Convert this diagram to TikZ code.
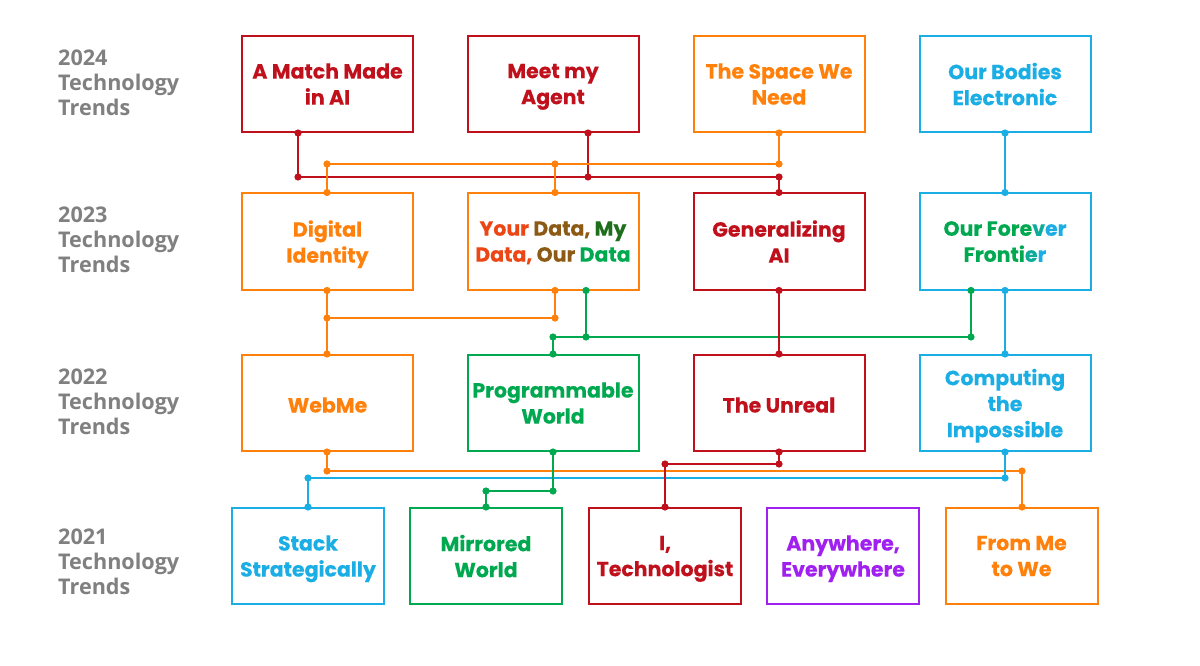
\documentclass[tikz,border=0pt]{standalone}
\usepackage{fontspec}
\setmainfont{Poppins}[BoldFeatures={FakeBold=0.25}]
\newfontfamily\labfont{Open Sans}
\definecolor{cred}{RGB}{192,16,28}
\definecolor{corange}{RGB}{255,128,10}
\definecolor{cblue}{RGB}{27,174,228}
\definecolor{cgreen}{RGB}{0,168,80}
\definecolor{cmix}{RGB}{14,171,154}
\definecolor{cpurple}{RGB}{160,32,240}
\definecolor{cgray}{RGB}{128,128,128}
\definecolor{cbrown}{RGB}{140,90,20}
\definecolor{cdkgreen}{RGB}{30,110,30}
\definecolor{cred2}{RGB}{235,70,20}
\newcommand\jd[2]{\fill[#1] #2 circle (3.6pt);}
\begin{document}
\begin{tikzpicture}[x=1pt,y=-1pt,
 box/.style={draw=#1, line width=2pt, minimum width=171pt, minimum height=96pt, inner sep=0, align=center, font=\bfseries\fontsize{20.5}{26}\selectfont, text=#1, text depth=0pt, execute at begin node={\rule{0pt}{19pt}}},
 sbox/.style={box=#1, minimum width=152pt},
 lab/.style={anchor=north west, align=left, text=cgray, font=\labfont\bfseries\fontsize{21.6}{25}\selectfont, inner sep=0},
 link/.style={draw=#1, line width=1.6pt},
]
\fill[white] (0,0) rectangle (1200,666);
\useasboundingbox (0,0) rectangle (1200,666);

% labels
\node[lab] (l1) at (58,50) {2024\\Technology\\Trends};
\node[lab] (l2) at (58,207) {2023\\Technology\\Trends};
\node[lab] (l3) at (58,369) {2022\\Technology\\Trends};
\node[lab] (l4) at (58,529) {2021\\Technology\\Trends};

% row 2024
\node[box=cred] (a1) at (327.5,84) {A Match Made\\in AI};
\node[box=cred] (a2) at (553,84) {Meet my\\Agent};
\node[box=corange] (a3) at (779,84) {The Space We\\Need};
\node[box=cblue] (a4) at (1005,84) {Our Bodies\\Electronic};
% row 2023
\node[box=corange] (b1) at (327.5,241.5) {Digital\\Identity};
\node[box=corange] (b2) at (553,241.5) {{\color{cred2}Your} {\color{cbrown}Data,} {\color{cdkgreen}My}\\{\color{cred2}Data,} {\color{cbrown}Our} {\color{cgreen}Data}};
\node[box=cred] (b3) at (779,241.5) {Generalizing\\AI};
\node[box=cblue] (b4) at (1005,241.5) {{\color{cgreen}Our Fore}{\color{cmix}v}{\color{cblue}er}\\{\color{cgreen}Fronti}{\color{cmix}e}{\color{cblue}r}};
% row 2022
\node[box=corange] (c1) at (327.5,403) {WebMe};
\node[box=cgreen] (c2) at (553,403) {Programmable\\World};
\node[box=cred] (c3) at (779,403) {The Unreal};
\node[box=cblue] (c4) at (1005,403) {Computing\\the\\Impossible};
% row 2021
\node[sbox=cblue] (d1) at (308,556) {Stack\\Strategically};
\node[sbox=cgreen] (d2) at (486,556) {Mirrored\\World};
\node[sbox=cred] (d3) at (665,556) {I,\\Technologist};
\node[sbox=cpurple] (d4) at (843,556) {Anywhere,\\Everywhere};
\node[sbox=corange] (d5) at (1021.5,556) {From Me\\to We};

% junction coordinates
\coordinate (r1) at (298,177);
\coordinate (r2) at (588,177);
\coordinate (r3) at (779,177);
\coordinate (o1) at (327,164);
\coordinate (o2) at (555,164);
\coordinate (o3) at (779,164);
\coordinate (p1) at (327,318);
\coordinate (p2) at (555,318);
\coordinate (g1) at (553,337);
\coordinate (g2) at (586,337);
\coordinate (g3) at (971,337);
\coordinate (q1) at (327,471);
\coordinate (q2) at (1022,471);
\coordinate (s1) at (308,478);
\coordinate (s2) at (1005,478);
\coordinate (t1) at (553,491);
\coordinate (t2) at (486,491);
\coordinate (u1) at (779,464);
\coordinate (u2) at (665,464);

% 2024 -> 2023
\draw[link=cred] (a1.south -| r1) -- (r1) -- (r3) -- (b3.north);
\draw[link=cred] (a2.south -| r2) -- (r2);
\draw[link=corange] (a3.south) -- (o3) -- (o1) -- (b1.north -| o1);
\draw[link=corange] (o2) -- (b2.north -| o2);
\draw[link=cblue] (a4.south) -- (b4.north);
% 2023 -> 2022
\draw[link=corange] (b1.south -| p1) -- (c1.north -| p1);
\draw[link=corange] (b2.south -| p2) -- (p2) -- (p1);
\draw[link=cgreen] (b2.south -| g2) -- (g2);
\draw[link=cgreen] (c2.north) -- (g1) -- (g3) -- (b4.south -| g3);
\draw[link=cred] (b3.south) -- (c3.north);
\draw[link=cblue] (b4.south) -- (c4.north);
% 2022 -> 2021
\draw[link=corange] (c1.south -| q1) -- (q1) -- (q2) -- (d5.north -| q2);
\draw[link=cblue] (c4.south) -- (s2) -- (s1) -- (d1.north);
\draw[link=cgreen] (c2.south) -- (t1) -- (t2) -- (d2.north);
\draw[link=cred] (c3.south) -- (u1) -- (u2) -- (d3.north);

% dots
\jd{cred}{(a1.south -| r1)} \jd{cred}{(r1)} \jd{cred}{(a2.south -| r2)} \jd{cred}{(r2)} \jd{cred}{(r3)} \jd{cred}{(b3.north)}
\jd{corange}{(a3.south)} \jd{corange}{(o3)} \jd{corange}{(o1)} \jd{corange}{(b1.north -| o1)} \jd{corange}{(o2)} \jd{corange}{(b2.north -| o2)}
\jd{cblue}{(a4.south)} \jd{cblue}{(b4.north)}
\jd{corange}{(b1.south -| p1)} \jd{corange}{(p1)} \jd{corange}{(c1.north -| p1)} \jd{corange}{(b2.south -| p2)} \jd{corange}{(p2)}
\jd{cgreen}{(b2.south -| g2)} \jd{cgreen}{(g2)} \jd{cgreen}{(c2.north)} \jd{cgreen}{(g1)} \jd{cgreen}{(g3)} \jd{cgreen}{(b4.south -| g3)}
\jd{cred}{(b3.south)} \jd{cred}{(c3.north)}
\jd{cblue}{(b4.south)} \jd{cblue}{(c4.north)}
\jd{corange}{(c1.south -| q1)} \jd{corange}{(q1)} \jd{corange}{(q2)} \jd{corange}{(d5.north -| q2)}
\jd{cblue}{(c4.south)} \jd{cblue}{(s2)} \jd{cblue}{(s1)} \jd{cblue}{(d1.north)}
\jd{cgreen}{(c2.south)} \jd{cgreen}{(t1)} \jd{cgreen}{(t2)} \jd{cgreen}{(d2.north)}
\jd{cred}{(c3.south)} \jd{cred}{(u1)} \jd{cred}{(u2)} \jd{cred}{(d3.north)}
\end{tikzpicture}
\end{document}
